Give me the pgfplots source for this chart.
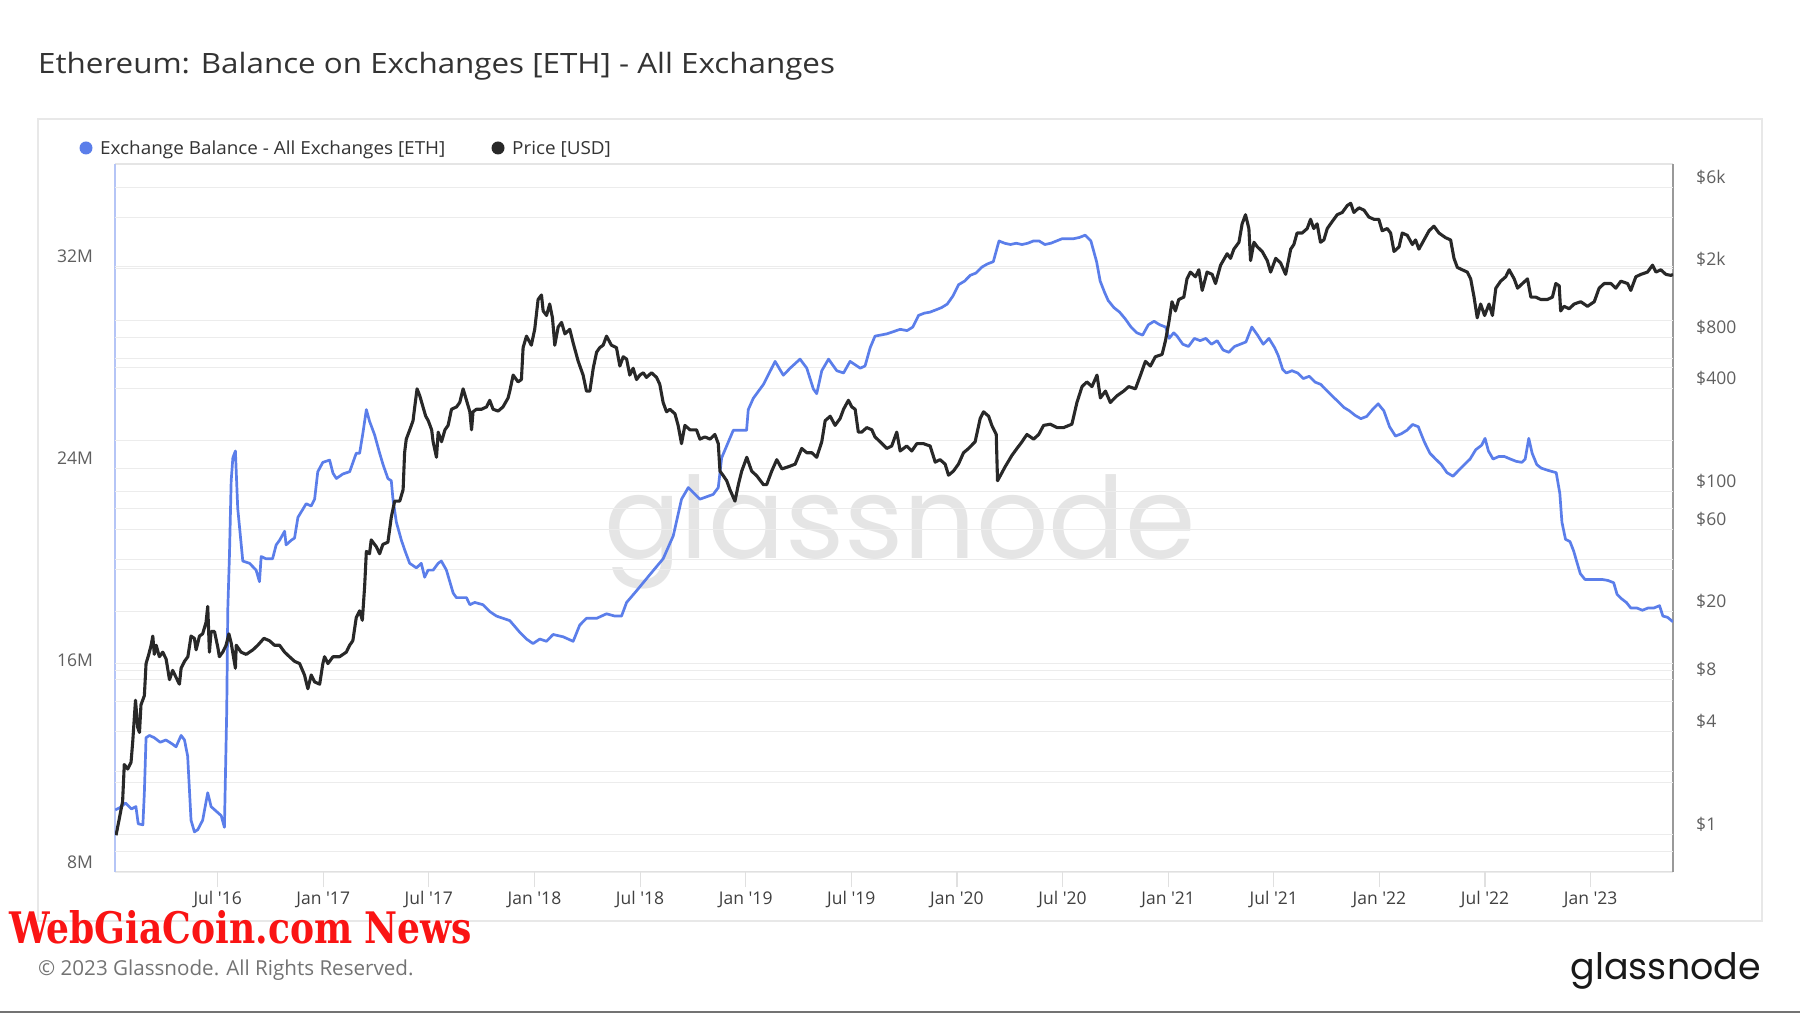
\documentclass[border=0pt]{standalone}
\usepackage{pgfplots}
\pgfplotsset{compat=1.18}
\usepackage{fontspec}
\setmainfont{Open Sans}
\newfontfamily\logofont{Poppins}
\newfontfamily\wmfont{DejaVu Serif}
\definecolor{ethblue}{RGB}{91,126,234}
\definecolor{pricegray}{RGB}{40,40,40}
\definecolor{gridgray}{RGB}{236,236,236}
\definecolor{ticktext}{RGB}{95,95,95}
\definecolor{wmred}{RGB}{250,20,20}

\pgfplotsset{
  frame/.style={
    at={(115pt,141pt)}, anchor=south west,
    scale only axis, width=1558pt, height=708pt,
    xmin=2016.014, xmax=2023.39,
    axis line style={draw=none},
  },
  ticks/.style={font=\fontsize{17.5}{21}\selectfont, text=ticktext, inner sep=0pt},
}

\begin{document}
\begin{tikzpicture}[x=1pt,y=1pt]
\useasboundingbox (0,0) rectangle (1800,1013);
\fill[white] (0,0) rectangle (1800,1013);
\fill[black!55] (0,0) rectangle (1800,2);

% title, box, legend
\node[anchor=base west, inner sep=0, text=black!80] at (38,939.5)
  {\scalebox{1.12}[1]{\fontsize{28}{32}\selectfont Ethereum: Balance on Exchanges [ETH] - All Exchanges}};
\draw[black!9, line width=1.5pt] (38,92) rectangle (1762,894);
\fill[ethblue] (86,865) circle (6.5);
\node[anchor=base west, inner sep=0, text=black!80] at (100,858.5)
  {\scalebox{1.05}[1]{\fontsize{18}{21}\selectfont Exchange Balance - All Exchanges [ETH]}};
\fill[pricegray] (498,865) circle (6.5);
\node[anchor=base west, inner sep=0, text=black!80] at (512,858.5)
  {\scalebox{1.05}[1]{\fontsize{18}{21}\selectfont Price [USD]}};

% watermarks and footer
\node[anchor=base, inner sep=0, text=black!10] at (900,454)
  {\resizebox{591pt}{!}{\logofont glassnode}};
\node[anchor=base west, inner sep=0, text=black!55] at (38,38)
  {\fontsize{20.6}{24}\selectfont \textcopyright{} 2023 Glassnode. All Rights Reserved.};
\node[anchor=base east, inner sep=0, text=black!90] at (1761,34)
  {\resizebox{190pt}{!}{\logofont glassnode}};
\node[anchor=base west, inner sep=0, text=wmred] at (9,70)
  {\resizebox{463pt}{33pt}{\wmfont\bfseries WebGiaCoin.com News}};

% plot frame
\draw[black!10, line width=1.2pt] (115,849) -- (1673,849);
\draw[black!12, line width=1.2pt] (115,141) -- (1673,141);
\draw[ethblue!45, line width=1.5pt] (115,141) -- (115,849);
\draw[black!40, line width=1.5pt] (1673,141) -- (1673,849);

% right axis: grid and labels only
\begin{axis}[frame,
  ymode=log, ymin=0.604, ymax=8185,
  xtick=\empty,
  ytick={0.6,0.8,1,2,4,6,8,10,20,40,60,80,100,200,400,600,800,1000,2000,4000,6000},
  yticklabels={\$0.60,,\$1,,\$4,,\$8,,\$20,,\$60,,\$100,,\$400,,\$800,,\$2k,,\$6k},
  yticklabel pos=right, ytick style={draw=none},
  ymajorgrids, major grid style={gridgray, line width=1pt},
  yticklabel style={ticks, anchor=west, xshift=23pt, yshift=10pt},
]
\addplot[draw=none] coordinates {(2017,1)};
\end{axis}

% left axis: exchange balance (M ETH)
\begin{axis}[frame,
  ymin=8, ymax=36.05,
  ytick={8,12,...,32}, yticklabels={8M,,16M,,24M,,32M},
  ytick pos=left, ytick style={draw=none},
  ymajorgrids, major grid style={gridgray, line width=1pt},
  yticklabel style={ticks, anchor=east, xshift=-7pt, yshift=10pt},
  xtick={2016.5,2017,...,2023},
  xticklabels={Jul \textquotesingle16,Jan \textquotesingle17,Jul \textquotesingle17,Jan \textquotesingle18,Jul \textquotesingle18,Jan \textquotesingle19,Jul \textquotesingle19,Jan \textquotesingle20,Jul \textquotesingle20,Jan \textquotesingle21,Jul \textquotesingle21,Jan \textquotesingle22,Jul \textquotesingle22,Jan \textquotesingle23},
  xtick pos=bottom, tick align=outside, major tick length=15pt,
  xtick style={draw=black!12, line width=1.2pt},
  xticklabel style={ticks, anchor=base, yshift=-17pt, text=black!75},
]
\addplot[ethblue, line width=2.7pt, line join=round] coordinates {
(2016.015,10.46) (2016.037,10.55) (2016.064,10.73) (2016.092,10.50) (2016.113,10.59)
(2016.124,9.91) (2016.146,9.87) (2016.153,11.14) (2016.161,13.32) (2016.177,13.41)
(2016.200,13.32) (2016.228,13.14) (2016.255,13.23) (2016.282,13.09) (2016.303,12.96)
(2016.327,13.41) (2016.343,13.23) (2016.358,12.59) (2016.374,10.05) (2016.390,9.59)
(2016.406,9.68) (2016.429,10.05) (2016.453,11.14) (2016.469,10.59) (2016.493,10.41)
(2016.517,10.23) (2016.532,9.77) (2016.543,14.41) (2016.548,18.41) (2016.556,20.59)
(2016.564,23.50) (2016.572,24.41) (2016.584,24.68) (2016.595,22.41) (2016.619,20.32)
(2016.651,20.23) (2016.682,19.96) (2016.698,19.50) (2016.706,20.50) (2016.729,20.41)
(2016.760,20.41) (2016.777,20.96) (2016.793,21.14) (2016.817,21.50) (2016.824,20.96)
(2016.848,21.14) (2016.864,21.23) (2016.880,22.05) (2016.919,22.59) (2016.943,22.50)
(2016.959,22.77) (2016.974,23.86) (2016.998,24.23) (2017.030,24.32) (2017.046,23.80)
(2017.062,23.59) (2017.093,23.77) (2017.125,23.86) (2017.156,24.59) (2017.172,24.59)
(2017.188,25.41) (2017.204,26.32) (2017.219,25.86) (2017.243,25.32) (2017.267,24.59)
(2017.283,24.14) (2017.306,23.59) (2017.322,23.50) (2017.330,22.77) (2017.346,21.86)
(2017.370,21.14) (2017.385,20.77) (2017.409,20.23) (2017.441,20.05) (2017.464,20.23)
(2017.480,19.68) (2017.496,19.96) (2017.520,19.96) (2017.544,20.23) (2017.559,20.32)
(2017.583,19.96) (2017.615,19.05) (2017.630,18.87) (2017.678,18.87) (2017.694,18.59)
(2017.717,18.68) (2017.756,18.59) (2017.788,18.32) (2017.820,18.14) (2017.851,18.05)
(2017.883,17.96) (2017.930,17.50) (2017.962,17.23) (2017.993,17.05) (2018.025,17.23)
(2018.057,17.14) (2018.088,17.41) (2018.135,17.32) (2018.183,17.14) (2018.214,17.78)
(2018.246,18.05) (2018.294,18.05) (2018.341,18.23) (2018.380,18.14) (2018.412,18.14)
(2018.436,18.68) (2018.483,19.14) (2018.546,19.78) (2018.609,20.41) (2018.657,21.32)
(2018.696,22.77) (2018.728,23.23) (2018.783,22.77) (2018.846,22.96) (2018.870,23.23)
(2018.886,24.41) (2018.941,25.50) (2019.004,25.50) (2019.012,26.32) (2019.036,26.77)
(2019.084,27.32) (2019.139,28.23) (2019.178,27.68) (2019.210,27.96) (2019.257,28.32)
(2019.289,27.96) (2019.320,27.14) (2019.336,26.95) (2019.360,27.86) (2019.392,28.32)
(2019.431,27.86) (2019.463,27.77) (2019.494,28.23) (2019.542,27.96) (2019.565,28.05)
(2019.589,28.77) (2019.612,29.23) (2019.668,29.32) (2019.731,29.50) (2019.764,29.45)
(2019.791,29.59) (2019.818,30.05) (2019.845,30.14) (2019.872,30.18) (2019.900,30.27)
(2019.927,30.36) (2019.954,30.50) (2019.981,30.82) (2020.008,31.27) (2020.036,31.41)
(2020.063,31.64) (2020.090,31.73) (2020.117,31.96) (2020.144,32.09) (2020.172,32.18)
(2020.199,33.00) (2020.226,32.91) (2020.253,32.86) (2020.280,32.91) (2020.308,32.86)
(2020.335,32.91) (2020.362,33.00) (2020.389,33.00) (2020.416,32.86) (2020.444,32.91)
(2020.471,33.00) (2020.498,33.09) (2020.525,33.09) (2020.552,33.09) (2020.580,33.14)
(2020.607,33.23) (2020.634,33.00) (2020.661,32.18) (2020.678,31.41) (2020.699,30.96)
(2020.716,30.64) (2020.743,30.36) (2020.770,30.18) (2020.797,29.91) (2020.824,29.59)
(2020.852,29.36) (2020.879,29.27) (2020.906,29.68) (2020.933,29.82) (2020.960,29.68)
(2020.988,29.59) (2021.004,29.14) (2021.026,29.36) (2021.042,29.23) (2021.069,28.91)
(2021.096,28.82) (2021.124,29.14) (2021.151,29.05) (2021.178,29.14) (2021.205,28.91)
(2021.232,29.05) (2021.260,28.68) (2021.287,28.59) (2021.314,28.82) (2021.341,28.91)
(2021.368,29.00) (2021.396,29.59) (2021.423,29.27) (2021.450,28.91) (2021.477,29.14)
(2021.504,28.77) (2021.521,28.46) (2021.542,27.91) (2021.559,27.77) (2021.586,27.86)
(2021.613,27.77) (2021.640,27.55) (2021.668,27.64) (2021.695,27.41) (2021.722,27.32)
(2021.749,27.09) (2021.776,26.86) (2021.804,26.64) (2021.831,26.41) (2021.858,26.27)
(2021.885,26.09) (2021.912,25.96) (2021.940,26.05) (2021.967,26.32) (2021.994,26.55)
(2022.021,26.27) (2022.048,25.64) (2022.076,25.27) (2022.103,25.36) (2022.130,25.50)
(2022.157,25.73) (2022.184,25.64) (2022.212,25.05) (2022.239,24.59) (2022.266,24.36)
(2022.293,24.14) (2022.320,23.82) (2022.348,23.68) (2022.375,23.91) (2022.402,24.14)
(2022.429,24.36) (2022.456,24.73) (2022.484,24.91) (2022.500,25.18) (2022.516,24.68)
(2022.538,24.36) (2022.565,24.46) (2022.592,24.46) (2022.620,24.36) (2022.647,24.27)
(2022.674,24.23) (2022.690,24.36) (2022.707,25.18) (2022.723,24.59) (2022.745,24.14)
(2022.766,24.00) (2022.799,23.91) (2022.837,23.82) (2022.854,23.00) (2022.864,21.86)
(2022.881,21.18) (2022.902,21.09) (2022.919,20.73) (2022.935,20.27) (2022.951,19.82)
(2022.973,19.59) (2023.000,19.59) (2023.028,19.59) (2023.055,19.59) (2023.082,19.55)
(2023.109,19.46) (2023.125,19.00) (2023.147,18.82) (2023.169,18.68) (2023.190,18.46)
(2023.218,18.46) (2023.245,18.37) (2023.272,18.46) (2023.299,18.46) (2023.326,18.55)
(2023.342,18.14) (2023.364,18.09) (2023.390,17.91)
};
\end{axis}

% right axis: price (USD, log)
\begin{axis}[frame,
  ymode=log, ymin=0.604, ymax=8185,
  xtick=\empty, ytick=\empty,
]
\addplot[pricegray, line width=3.1pt, line join=round] coordinates {
(2016.019,0.99) (2016.034,1.23) (2016.050,1.56) (2016.058,2.56) (2016.074,2.41)
(2016.090,2.64) (2016.098,3.49) (2016.111,6.07) (2016.122,4.19) (2016.130,3.94)
(2016.137,5.71) (2016.153,6.46) (2016.161,9.94) (2016.174,11.25) (2016.185,12.72)
(2016.193,14.39) (2016.200,11.25) (2016.209,12.72) (2016.224,10.90) (2016.240,11.59)
(2016.256,10.57) (2016.272,8.01) (2016.287,9.07) (2016.303,8.26) (2016.319,7.54)
(2016.327,9.34) (2016.343,10.25) (2016.359,10.90) (2016.374,14.39) (2016.390,13.95)
(2016.398,11.96) (2016.414,14.39) (2016.429,14.83) (2016.445,17.30) (2016.453,21.44)
(2016.461,11.59) (2016.469,15.29) (2016.485,15.29) (2016.501,12.33) (2016.508,10.90)
(2016.524,11.59) (2016.540,12.72) (2016.553,14.83) (2016.564,13.12) (2016.584,9.34)
(2016.588,12.72) (2016.611,11.59) (2016.635,11.25) (2016.667,11.96) (2016.690,12.72)
(2016.719,13.95) (2016.745,13.52) (2016.769,12.72) (2016.793,12.72) (2016.817,11.59)
(2016.840,10.90) (2016.864,10.25) (2016.888,9.94) (2016.911,8.53) (2016.927,7.09)
(2016.943,8.53) (2016.959,7.77) (2016.983,7.54) (2016.998,9.94) (2017.006,10.90)
(2017.022,9.94) (2017.046,10.90) (2017.077,10.90) (2017.109,11.59) (2017.125,12.72)
(2017.140,13.52) (2017.156,18.4) (2017.172,20.2) (2017.185,17.8) (2017.196,28.3)
(2017.204,44.9) (2017.219,43.5) (2017.227,52.4) (2017.251,47.8) (2017.267,43.5)
(2017.282,49.3) (2017.306,50.8) (2017.322,71.1) (2017.338,88.2) (2017.362,88.2)
(2017.378,103) (2017.385,169) (2017.393,203) (2017.409,229) (2017.425,260)
(2017.433,313) (2017.444,399) (2017.457,363) (2017.472,313) (2017.485,276)
(2017.497,260) (2017.513,230) (2017.520,196) (2017.536,159) (2017.544,223)
(2017.560,196) (2017.576,230) (2017.591,244) (2017.607,303) (2017.631,313)
(2017.646,332) (2017.662,399) (2017.678,342) (2017.694,293) (2017.702,230)
(2017.709,293) (2017.725,303) (2017.749,303) (2017.773,313) (2017.788,342)
(2017.804,303) (2017.828,296) (2017.851,313) (2017.875,353) (2017.883,387)
(2017.899,480) (2017.922,438) (2017.938,452) (2017.946,694) (2017.962,810)
(2017.985,717) (2018.001,888) (2018.017,1325) (2018.033,1408) (2018.041,1136)
(2018.057,1069) (2018.072,1247) (2018.085,1036) (2018.096,717) (2018.112,916)
(2018.128,974) (2018.144,835) (2018.167,888) (2018.183,739) (2018.207,577)
(2018.230,480) (2018.246,387) (2018.262,387) (2018.278,526) (2018.294,653)
(2018.309,694) (2018.325,717) (2018.341,810) (2018.364,717) (2018.388,694)
(2018.404,542) (2018.420,614) (2018.436,595) (2018.451,480) (2018.467,526)
(2018.483,452) (2018.499,480) (2018.515,495) (2018.530,465) (2018.554,495)
(2018.578,465) (2018.593,424) (2018.609,332) (2018.625,293) (2018.641,303)
(2018.665,285) (2018.680,244) (2018.696,191) (2018.712,244) (2018.736,230)
(2018.767,230) (2018.783,203) (2018.807,209) (2018.831,203) (2018.854,216)
(2018.870,191) (2018.878,132) (2018.894,124) (2018.910,116) (2018.925,103)
(2018.949,88.2) (2018.965,110) (2018.981,132) (2019.005,159) (2019.028,132)
(2019.052,124) (2019.084,110) (2019.099,110) (2019.123,132) (2019.147,154)
(2019.171,136) (2019.202,140) (2019.234,145) (2019.265,179) (2019.289,169)
(2019.313,169) (2019.336,159) (2019.360,196) (2019.376,260) (2019.400,276)
(2019.423,244) (2019.447,268) (2019.463,303) (2019.486,342) (2019.502,313)
(2019.518,303) (2019.533,223) (2019.549,223) (2019.573,237) (2019.597,230)
(2019.612,209) (2019.636,196) (2019.668,179) (2019.691,185) (2019.715,223)
(2019.731,173) (2019.762,185) (2019.786,173) (2019.810,191) (2019.841,191)
(2019.873,185) (2019.897,149) (2019.920,154) (2019.944,145) (2019.960,125)
(2019.983,132) (2020.007,145) (2020.031,169) (2020.055,179) (2020.086,196)
(2020.110,268) (2020.126,293) (2020.150,276) (2020.165,244) (2020.186,216)
(2020.192,116) (2020.205,124) (2020.228,140) (2020.260,163) (2020.284,179)
(2020.308,196) (2020.331,216) (2020.363,203) (2020.387,216) (2020.410,244)
(2020.442,248) (2020.474,237) (2020.505,237) (2020.544,248) (2020.568,332)
(2020.592,411) (2020.615,438) (2020.639,411) (2020.663,480) (2020.679,353)
(2020.703,387) (2020.726,332) (2020.757,363) (2020.789,387) (2020.813,411)
(2020.845,399) (2020.869,480) (2020.892,577) (2020.916,542) (2020.939,614)
(2020.971,633) (2020.987,761) (2021.003,974) (2021.018,1286) (2021.034,1136)
(2021.050,1325) (2021.074,1368) (2021.089,1750) (2021.105,1915) (2021.129,1799)
(2021.145,1976) (2021.161,1497) (2021.184,1915) (2021.208,1858) (2021.224,1642)
(2021.248,2102) (2021.279,2451) (2021.295,2303) (2021.311,2607) (2021.335,2860)
(2021.350,3661) (2021.366,4140) (2021.382,3438) (2021.390,2235) (2021.406,2860)
(2021.422,2688) (2021.445,2526) (2021.469,2235) (2021.485,1915) (2021.509,2303)
(2021.532,2168) (2021.556,1858) (2021.580,2607) (2021.595,2775) (2021.610,3237)
(2021.634,3237) (2021.658,3438) (2021.674,3893) (2021.689,3438) (2021.705,3661)
(2021.721,2860) (2021.737,2950) (2021.753,3438) (2021.776,3772) (2021.800,4140)
(2021.824,4269) (2021.848,4685) (2021.864,4826) (2021.879,4269) (2021.903,4542)
(2021.927,4402) (2021.950,4013) (2021.974,3893) (2021.997,3893) (2022.013,3337)
(2022.037,3438) (2022.053,3237) (2022.069,2526) (2022.093,2688) (2022.108,3237)
(2022.132,3138) (2022.156,2775) (2022.171,2950) (2022.187,2607) (2022.211,2950)
(2022.235,3337) (2022.258,3548) (2022.282,3237) (2022.313,3041) (2022.337,2950)
(2022.353,2303) (2022.369,2038) (2022.392,1976) (2022.416,1915) (2022.432,1748)
(2022.448,1368) (2022.463,1036) (2022.479,1247) (2022.498,1069) (2022.519,1247)
(2022.535,1069) (2022.551,1543) (2022.574,1695) (2022.598,1799) (2022.614,1976)
(2022.638,1748) (2022.654,1543) (2022.677,1642) (2022.701,1748) (2022.717,1368)
(2022.740,1368) (2022.764,1325) (2022.795,1325) (2022.819,1368) (2022.835,1642)
(2022.851,1594) (2022.858,1136) (2022.874,1209) (2022.898,1170) (2022.922,1247)
(2022.953,1286) (2022.985,1209) (2023.017,1286) (2023.040,1543) (2023.064,1642)
(2023.096,1642) (2023.119,1543) (2023.143,1695) (2023.175,1642) (2023.190,1497)
(2023.214,1799) (2023.238,1858) (2023.269,1915) (2023.293,2102) (2023.309,1915)
(2023.332,1976) (2023.356,1858) (2023.380,1832) (2023.390,1858)
};
\end{axis}
\end{tikzpicture}
\end{document}
